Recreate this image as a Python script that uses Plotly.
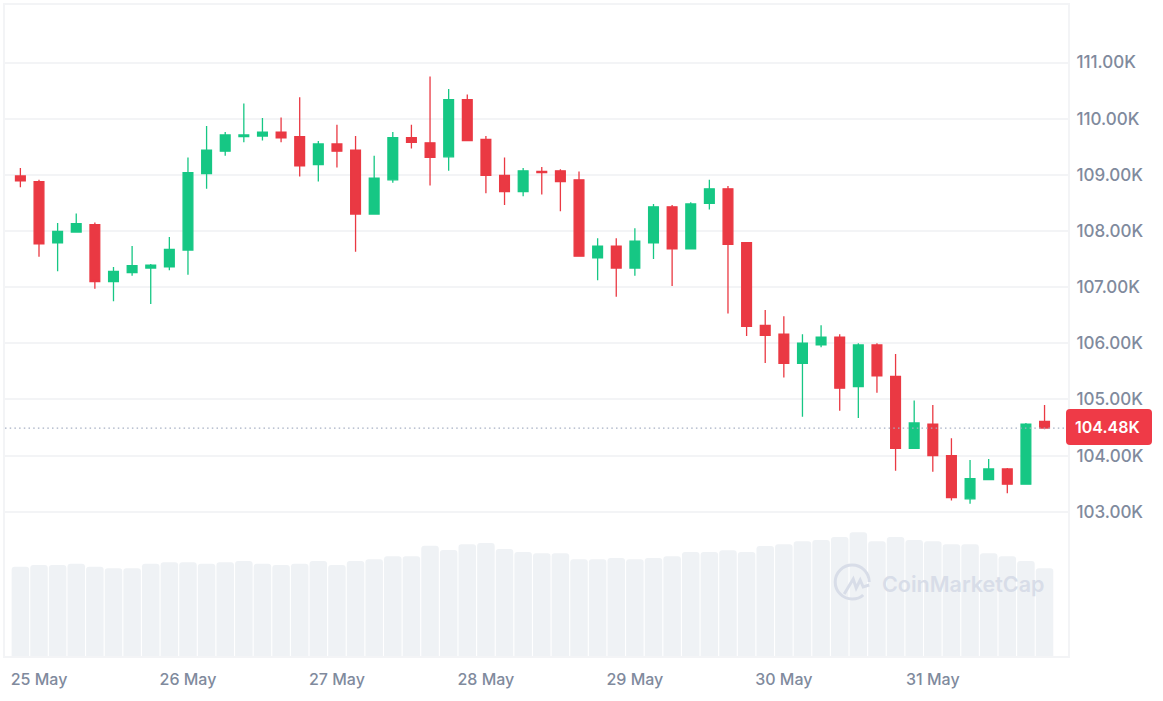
import pandas as pd
import plotly.graph_objects as go

# 3h candles, BTC/USD
START = "2025-05-24 21:00"
STEP_HOURS = 3

OPEN = [108980, 108880, 107790, 107980, 108110, 107100, 107260, 107340, 107360, 107660,
        109020, 109420, 109680, 109690, 109760, 109680, 109180, 109550, 109440, 108300,
        108910, 109660, 109570, 109320, 110340, 109630, 108990, 108700, 109060, 109070,
        108910, 107520, 107730, 107340, 107790, 108430, 107680, 108490, 108750, 107790,
        106320, 106160, 105640, 105970, 106110, 105230, 105970, 105410, 104130, 104560,
        104000, 103230, 103570, 103760, 103490, 104610]
HIGH = [109120, 108910, 108140, 108310, 108150, 107360, 107730, 107410, 107890, 109310,
        109870, 109760, 110270, 110010, 110020, 110380, 109600, 109890, 109690, 109340,
        109760, 109890, 110750, 110530, 110430, 109690, 109310, 109120, 109140, 109100,
        109060, 107870, 107870, 108050, 108480, 108460, 108510, 108910, 108800, 107790,
        106590, 106480, 106160, 106320, 106160, 106000, 106000, 105810, 104980, 104900,
        104310, 103920, 103940, 103780, 104580, 104900]
LOW = [108780, 107540, 107280, 107980, 106970, 106750, 107200, 106700, 107300, 107220,
       108750, 109340, 109580, 109610, 109580, 108970, 108880, 109130, 107630, 108300,
       108860, 109470, 108810, 109070, 109610, 108670, 108460, 108620, 108650, 108350,
       107550, 107120, 106830, 107200, 107500, 107020, 107680, 108380, 106530, 106130,
       105650, 105390, 104690, 105930, 104800, 104670, 105120, 103730, 104130, 103710,
       103200, 103140, 103570, 103330, 103490, 104470]
CLOSE = [108890, 107770, 107990, 108130, 107100, 107280, 107380, 107390, 107670, 109040,
         109440, 109710, 109710, 109760, 109660, 109160, 109550, 109420, 108300, 108940,
         109660, 109580, 109310, 110340, 109610, 108990, 108700, 109070, 109040, 108880,
         107550, 107730, 107340, 107820, 108430, 107680, 108480, 108750, 107760, 106300,
         106140, 105640, 106000, 106110, 105200, 105970, 105420, 104130, 104580, 104000,
         103250, 103590, 103760, 103490, 104560, 104490]
# volume has no scale on the chart, so these are relative bar heights
VOLUME = [89.3, 91, 91, 92.3, 89.3, 87.7, 87.7, 92.3, 93.7, 93.7,
          92.3, 93.7, 95, 92.3, 91, 92.3, 95, 91, 95, 96.7,
          99.7, 99.7, 110.3, 106, 111.7, 113, 107, 104, 102.7, 102.7,
          96.7, 96.7, 98, 96.7, 98, 99.7, 104, 104, 105.7, 104,
          110, 111.7, 114.7, 116, 119, 123.7, 114.7, 119, 116, 114.7,
          111.7, 111.7, 102.7, 99.7, 95, 87.7]

Y_TICKS = [103000, 104000, 105000, 106000, 107000, 108000, 109000, 110000, 111000]
Y_LABELS = ["103.00K", "104.00K", "105.00K", "106.00K", "107.00K", "108.00K", "109.00K", "110.00K", "111.00K"]
X_TICKS = ["2025-05-25", "2025-05-26", "2025-05-27", "2025-05-28", "2025-05-29", "2025-05-30", "2025-05-31"]
X_LABELS = ["25 May", "26 May", "27 May", "28 May", "29 May", "30 May", "31 May"]

LAST_PRICE = 104490
LAST_LABEL = "104.48K"

GREEN = "#16C784"
RED = "#EA3943"
GREY = "#808A9D"
GRID = "#F3F4F6"
FONT = "Inter"

times = pd.date_range(START, periods=len(OPEN), freq=f"{STEP_HOURS}h")
step = pd.Timedelta(hours=STEP_HOURS)

fig = go.Figure()
fig.add_trace(go.Candlestick(
    x=times, open=OPEN, high=HIGH, low=LOW, close=CLOSE,
    increasing=dict(line=dict(color=GREEN, width=1.3), fillcolor=GREEN),
    decreasing=dict(line=dict(color=RED, width=1.3), fillcolor=RED),
    whiskerwidth=0, showlegend=False, hoverinfo="skip",
))
fig.add_trace(go.Bar(
    x=times, y=VOLUME, yaxis="y2", marker=dict(color="#EFF2F5", line_width=0),
    showlegend=False, hoverinfo="skip",
))

fig.update_layout(
    width=1163, height=701,
    margin=dict(l=3, r=95, t=5, b=45),
    paper_bgcolor="white", plot_bgcolor="white",
    font=dict(family=FONT, color=GREY, size=15),
    boxgap=0.25, boxgroupgap=0.3,
    bargap=0.06, barcornerradius=3,
    xaxis=dict(
        type="date", rangeslider_visible=False,
        range=[times[0] - 0.826 * step, times[0] + 56.26 * step],
        tickmode="array", tickvals=X_TICKS, ticktext=X_LABELS,
        tickfont=dict(family=FONT, size=16, color=GREY, weight=500),
        showgrid=False, ticks="", ticklabelstandoff=8,
        showline=True, mirror=True, linecolor=GRID, linewidth=2, zeroline=False,
    ),
    yaxis=dict(
        side="right", range=[100430, 112024], autorange=False,
        tickmode="array", tickvals=Y_TICKS, ticktext=Y_LABELS,
        tickfont=dict(family=FONT, size=17, color=GREY, weight=500),
        showgrid=True, gridcolor=GRID, gridwidth=1.5, ticks="", ticklabelstandoff=3,
        showline=True, mirror=True, linecolor=GRID, linewidth=2, zeroline=False,
    ),
    yaxis2=dict(
        overlaying="y", range=[0, 651], autorange=False, visible=False, fixedrange=True,
    ),
)

# dotted last price line
fig.add_shape(
    type="line", xref="paper", x0=0, x1=1, yref="y", y0=LAST_PRICE, y1=LAST_PRICE,
    line=dict(color="#A6B0C3", width=1.3, dash="1.5px,3.2px"),
)

# last price tag, rounded so it has to be a path
fig.add_shape(
    type="path", xref="paper", xsizemode="pixel", xanchor=1,
    yref="y", ysizemode="pixel", yanchor=LAST_PRICE,
    path="M 2 -17 Q -2 -17 -2 -13 L -2 15 Q -2 19 2 19 L 80 19 Q 84 19 84 15 L 84 -13 Q 84 -17 80 -17 Z",
    fillcolor="#EF3A47", line_width=0,
)
fig.add_annotation(
    xref="paper", x=1, xanchor="left", xshift=5, yshift=1, yref="y", y=LAST_PRICE, yanchor="middle",
    text=LAST_LABEL, showarrow=False,
    font=dict(family=FONT, size=16, color="white", weight=600),
)

# watermark
LOGO = "#D8DDE8"
fig.add_shape(
    type="path", xref="paper", xsizemode="pixel", xanchor=0.797,
    yref="paper", ysizemode="pixel", yanchor=0.1137,
    path="M 17 0 C 17 9.4 9.4 17 0 17 C -9.4 17 -17 9.4 -17 0 C -17 -9.4 -9.4 -17 0 -17 C 4 -17 8 -16 11 -13",
    line=dict(color=LOGO, width=3), layer="above",
)
fig.add_shape(
    type="path", xref="paper", xsizemode="pixel", xanchor=0.797,
    yref="paper", ysizemode="pixel", yanchor=0.1137,
    path="M -8 -12 L 1 3 L 4 -6 L 8 2 L 11 -5 L 17 -3",
    line=dict(color=LOGO, width=3), layer="above",
)
fig.add_annotation(
    xref="paper", x=0.8235, xanchor="left", yref="paper", y=0.1137, yshift=-2, yanchor="middle",
    text="CoinMarketCap", showarrow=False,
    font=dict(family=FONT, size=21.5, color=LOGO, weight=600),
)

# browser default body margin would push the plot off by 8px
fig.write_html("out.html", config={"displayModeBar": False},
               post_script="document.body.style.margin = '0';")
